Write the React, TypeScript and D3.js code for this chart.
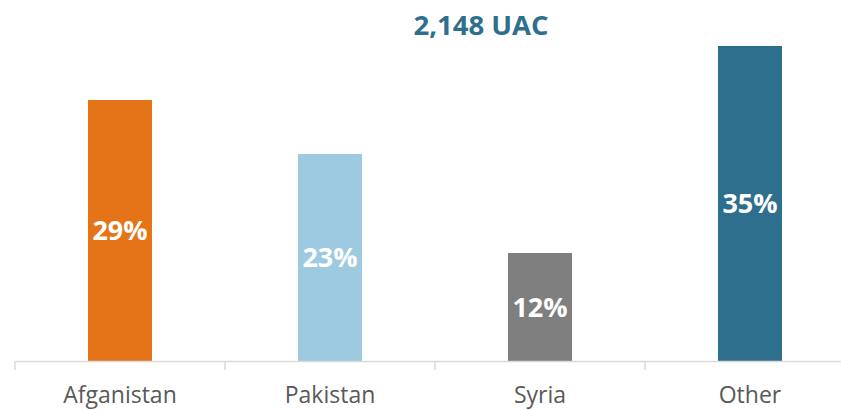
import React, { useRef, useEffect } from 'react';
import * as d3 from 'd3';

const categories = ['Afganistan', 'Pakistan', 'Syria', 'Other'];
const shares = [29, 23, 12, 35];
const barColors = ['#E57418', '#9ECAE1', '#7F7F7F', '#2E6F8E'];
const title = '2,148 UAC';

const App = () => {
  const ref = useRef<SVGSVGElement>(null);

  useEffect(() => {
    const width = 841;
    const height = 410;
    const baseline = 361;
    const font = '"Open Sans", sans-serif';

    const svg = d3.select(ref.current);
    svg.selectAll('*').remove();
    svg.attr('width', width).attr('height', height);

    const x = d3.scaleBand<string>()
      .domain(categories)
      .range([15, 855])
      .paddingInner(0.695)
      .paddingOuter(0.3475);

    const y = d3.scaleLinear()
      .domain([0, 35])
      .range([baseline, 46]);

    // title
    svg.append('text')
      .attr('x', 481)
      .attr('y', 35)
      .attr('text-anchor', 'middle')
      .attr('font-family', font)
      .attr('font-weight', 700)
      .attr('font-size', 27.5)
      .attr('fill', '#2E6F8E')
      .text(title);

    // bars
    svg.selectAll('.bar')
      .data(shares)
      .enter().append('rect')
      .attr('class', 'bar')
      .attr('x', (d, i) => x(categories[i])!)
      .attr('y', d => y(d))
      .attr('width', x.bandwidth())
      .attr('height', d => baseline - y(d))
      .attr('fill', (d, i) => barColors[i]);

    // value labels
    svg.selectAll('.val')
      .data(shares)
      .enter().append('text')
      .attr('class', 'val')
      .attr('x', (d, i) => x(categories[i])! + x.bandwidth() / 2)
      .attr('y', d => (y(d) + baseline) / 2)
      .attr('dy', '0.36em')
      .attr('text-anchor', 'middle')
      .attr('font-family', font)
      .attr('font-weight', 700)
      .attr('font-size', 27)
      .attr('fill', '#ffffff')
      .text(d => `${d}%`);

    // axis line and ticks at band edges
    const step = x.step();
    const edges = categories.map(c => x(c)! + x.bandwidth() / 2 - step / 2);
    edges.push(edges[edges.length - 1] + step);

    const axis = svg.append('g');
    axis.append('line')
      .attr('x1', edges[0]).attr('x2', edges[edges.length - 1])
      .attr('y1', baseline + 0.5).attr('y2', baseline + 0.5)
      .attr('stroke', '#D9D9D9').attr('stroke-width', 1.5);
    axis.selectAll('.tick')
      .data(edges)
      .enter().append('line')
      .attr('x1', d => d).attr('x2', d => d)
      .attr('y1', baseline).attr('y2', baseline + 9)
      .attr('stroke', '#D9D9D9').attr('stroke-width', 1.5);

    axis.selectAll('.lbl')
      .data(categories)
      .enter().append('text')
      .attr('x', d => x(d)! + x.bandwidth() / 2)
      .attr('y', 403)
      .attr('text-anchor', 'middle')
      .attr('font-family', font)
      .attr('font-size', 23)
      .attr('fill', '#595959')
      .text(d => d);
  }, []);

  return (
    <svg ref={ref} style={{ position: 'absolute', left: 0, top: 0 }}></svg>
  );
};

export default App;
